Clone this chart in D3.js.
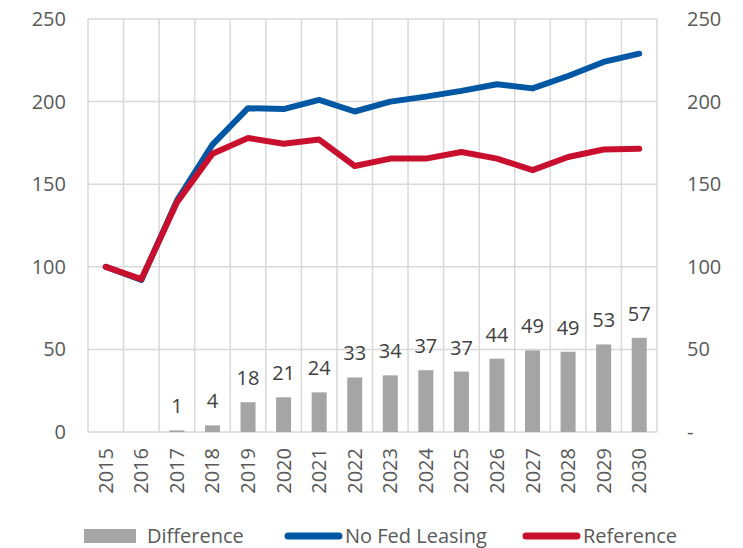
<!DOCTYPE html>
<html>
<head>
<meta charset="utf-8">
<script src="https://cdn.jsdelivr.net/npm/d3@7"></script>
<style>
  body { margin: 0; background: #fff; }
  text { font-family: "Open Sans", "Liberation Sans", sans-serif; }
</style>
</head>
<body>
<svg width="743" height="548"></svg>
<script>
// Values.
const years = ['2015', '2016', '2017', '2018', '2019', '2020', '2021', '2022',
  '2023', '2024', '2025', '2026', '2027', '2028', '2029', '2030'];
const noFedLeasing = [100, 92, 140, 174, 196, 195.5, 201, 194, 200, 203, 206.5, 210.5, 208, 215.5, 224, 229];
const reference = [100, 92.5, 139, 168.5, 178, 174.5, 177, 161, 165.5, 165.5, 169.5, 165.5, 158.5, 166.5, 171, 171.5];
const difference = [null, null, 1, 4, 18, 21, 24, 33, 34.3, 37.4, 36.6, 44.4, 49.4, 48.6, 53, 57];
const yTicks = [0, 50, 100, 150, 200, 250];

// 1. Dimensions.
const margin = { top: 19, right: 86, bottom: 116, left: 88 };
const width = 743 - margin.left - margin.right;
const height = 548 - margin.top - margin.bottom;
const textCol = '#595959';

const svg = d3.select('svg');
const g = svg.append('g').attr('transform', `translate(${margin.left},${margin.top})`);

// 2. Scales.
const xScale = d3.scaleBand().domain(years).range([0, width]);
const yScale = d3.scaleLinear().domain([0, 250]).range([height, 0]);
const xMid = d => xScale(d) + xScale.bandwidth() / 2;

// 3. Grid.
g.selectAll('.hgrid')
  .data(yTicks)
  .enter()
  .append('line')
  .attr('x1', 0)
  .attr('x2', width)
  .attr('y1', d => yScale(d))
  .attr('y2', d => yScale(d))
  .style('stroke', '#d9d9d9')
  .style('stroke-width', 1.5);

g.selectAll('.vgrid')
  .data(years.concat(['end']))
  .enter()
  .append('line')
  .attr('x1', (d, i) => i * xScale.step())
  .attr('x2', (d, i) => i * xScale.step())
  .attr('y1', 0)
  .attr('y2', height)
  .style('stroke', '#d9d9d9')
  .style('stroke-width', 1.5);

// Left axis.
g.selectAll('.ylab')
  .data(yTicks)
  .enter()
  .append('text')
  .attr('x', -22)
  .attr('y', d => yScale(d))
  .attr('dy', '0.35em')
  .attr('text-anchor', 'end')
  .style('font-size', '20px')
  .style('fill', textCol)
  .text(d => d);

// Right axis ("-" for zero).
g.selectAll('.ylabr')
  .data(yTicks)
  .enter()
  .append('text')
  .attr('x', width + 30)
  .attr('y', d => yScale(d))
  .attr('dy', '0.35em')
  .style('font-size', '20px')
  .style('fill', textCol)
  .text(d => (d === 0 ? '-' : d));

// X labels, rotated.
g.selectAll('.xlab')
  .data(years)
  .enter()
  .append('text')
  .attr('transform', d => `translate(${xMid(d)},${height + 16}) rotate(-90)`)
  .attr('dy', '0.35em')
  .attr('text-anchor', 'end')
  .style('font-size', '20px')
  .style('fill', textCol)
  .text(d => d);

// Bars.
const barW = 15;
const bars = years.map((y, i) => ({ year: y, v: difference[i] })).filter(d => d.v !== null);

g.selectAll('rect.bar')
  .data(bars)
  .enter()
  .append('rect')
  .attr('class', 'bar')
  .attr('x', d => xMid(d.year) - barW / 2)
  .attr('y', d => yScale(d.v))
  .attr('width', barW)
  .attr('height', d => height - yScale(d.v))
  .attr('fill', '#a5a5a5');

g.selectAll('text.blab')
  .data(bars)
  .enter()
  .append('text')
  .attr('x', d => xMid(d.year))
  .attr('y', d => yScale(d.v) - 17)
  .attr('text-anchor', 'middle')
  .style('font-size', '20px')
  .style('fill', '#404040')
  .text(d => Math.round(d.v));

// Lines.
const line = d3.line().x((d, i) => xMid(years[i])).y(d => yScale(d));

g.append('path')
  .datum(noFedLeasing)
  .attr('d', line)
  .attr('fill', 'none')
  .style('stroke', '#0057a4')
  .style('stroke-width', 6)
  .style('stroke-linecap', 'round')
  .style('stroke-linejoin', 'round');

g.append('path')
  .datum(reference)
  .attr('d', line)
  .attr('fill', 'none')
  .style('stroke', '#c8102e')
  .style('stroke-width', 6)
  .style('stroke-linecap', 'round')
  .style('stroke-linejoin', 'round');

// Legend.
const leg = svg.append('g').attr('transform', 'translate(0,536)');
leg.append('rect').attr('x', 84).attr('y', -7).attr('width', 52).attr('height', 14).attr('fill', '#a5a5a5');
leg.append('text').attr('x', 147).attr('dy', '0.35em').style('font-size', '20px').style('fill', textCol).text('Difference');
leg.append('line').attr('x1', 288).attr('x2', 339).style('stroke', '#0057a4').style('stroke-width', 7).style('stroke-linecap', 'round');
leg.append('text').attr('x', 345).attr('dy', '0.35em').style('font-size', '20px').style('fill', textCol).text('No Fed Leasing');
leg.append('line').attr('x1', 526).attr('x2', 577).style('stroke', '#c8102e').style('stroke-width', 7).style('stroke-linecap', 'round');
leg.append('text').attr('x', 583).attr('dy', '0.35em').style('font-size', '20px').style('fill', textCol).text('Reference');
</script>
</body>
</html>
